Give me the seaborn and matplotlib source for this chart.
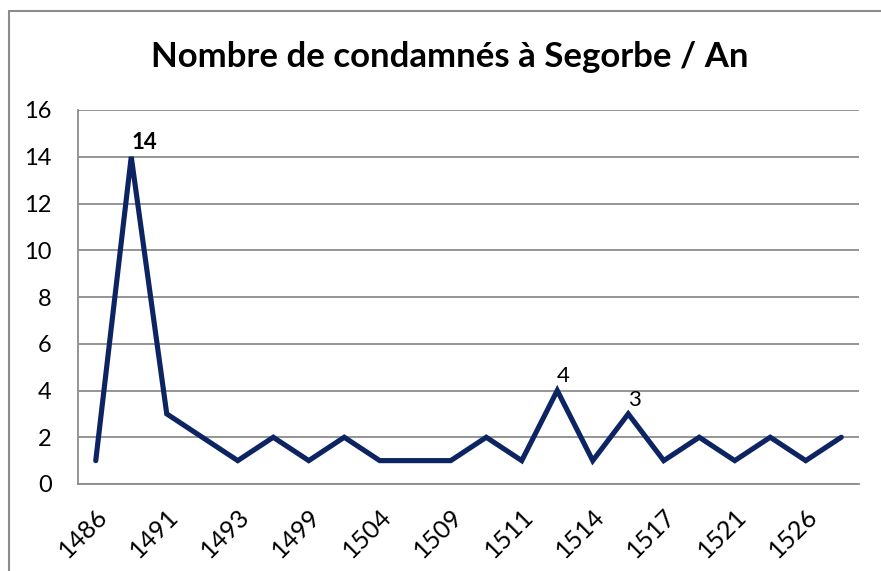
import matplotlib
matplotlib.use("Agg")
import matplotlib.pyplot as plt
import numpy as np
import seaborn as sns
from matplotlib.lines import Line2D

# Years (only every other one is shown on the axis)
years = ["1486", "1488", "1491", "1492", "1493", "1497", "1499", "1502",
         "1504", "1507", "1509", "1510", "1511", "1512", "1514", "1516",
         "1517", "1519", "1521", "1524", "1526", "1528"]
counts = [1, 14, 3, 2, 1, 2, 1, 2, 1, 1, 1, 2, 1, 4, 1, 3, 1, 2, 1, 2, 1, 2]
label_points = {1: ("14", "bold"), 13: ("4", "normal"), 15: ("3", "normal")}

sns.set_style("white")
plt.rcParams["font.family"] = ["Lato", "DejaVu Sans"]

fig = plt.figure(figsize=(8.81, 5.71), dpi=100)
ax = fig.add_axes([78 / 881, 1 - 484 / 571, 781 / 881, 374 / 571])

pos = np.arange(len(years))
sns.lineplot(x=pos, y=counts, ax=ax, color="#0d2463", linewidth=3.7,
             solid_capstyle="round", solid_joinstyle="miter")

for i, (txt, w) in label_points.items():
    ax.annotate(txt, (pos[i], counts[i]), xytext=(0, 3), textcoords="offset points",
                fontsize=16, fontweight=w, color="black", ha="left", va="bottom")

ax.set_xlim(-0.5, len(years) - 0.5)
ax.set_ylim(0, 16)
ax.set_yticks(range(0, 17, 2))
ax.yaxis.grid(True, color="#8c8c8c", linewidth=1.3)
ax.set_axisbelow(True)

ax.set_xticks(pos[::2])
ax.set_xticklabels(years[::2], rotation=45, ha="right", va="top",
                   rotation_mode="anchor", fontsize=18, color="black")
ax.set_xticks(np.arange(-0.5, len(years)), minor=True)
ax.tick_params(axis="x", which="major", length=0, pad=15)
ax.tick_params(axis="x", which="minor", length=7, width=1.3, color="#8c8c8c")
ax.tick_params(axis="y", length=7, width=1.3, color="#8c8c8c", labelsize=17,
               pad=12, labelcolor="black", direction="out")

for s in ["top", "right"]:
    ax.spines[s].set_visible(False)
for s in ["left", "bottom"]:
    ax.spines[s].set_color("#8c8c8c")
    ax.spines[s].set_linewidth(1.3)

ax.set_xlabel("")
ax.set_ylabel("")

fig.text(450 / 881, 1 - 57 / 571, "Nombre de condamnés à Segorbe / An",
         ha="center", va="center", fontsize=25, fontweight="bold", color="black")

# chart border (only top and left edges visible)
fig.add_artist(Line2D([8.5 / 881, 8.5 / 881], [0, 1 - 11 / 571],
                      transform=fig.transFigure, color="#8c8c8c", linewidth=1.5))
fig.add_artist(Line2D([8.5 / 881, 1], [1 - 11 / 571, 1 - 11 / 571],
                      transform=fig.transFigure, color="#8c8c8c", linewidth=1.5))

fig.savefig("out.png", dpi=100)
